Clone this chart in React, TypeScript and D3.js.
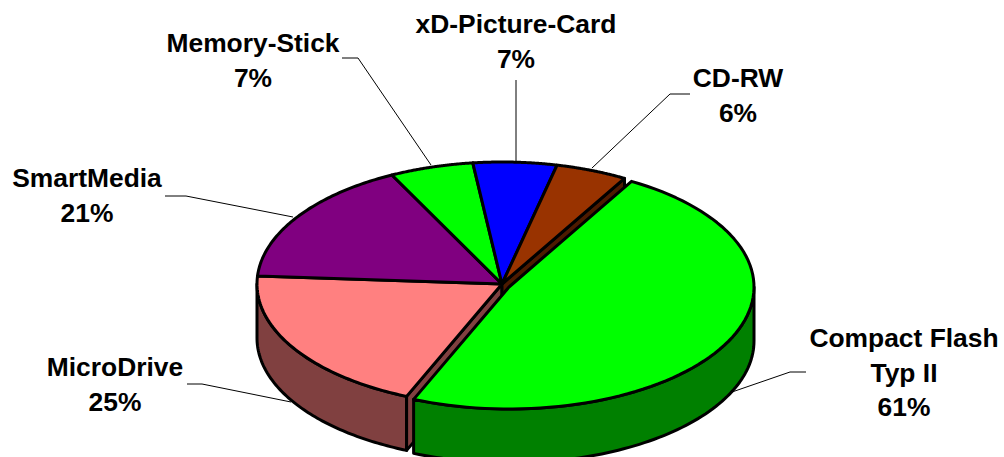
import React from "react";
import * as d3 from "d3";

const categories = ["Compact Flash\nTyp II", "MicroDrive", "SmartMedia", "Memory-Stick", "xD-Picture-Card", "CD-RW"];
const values = [61, 25, 21, 7, 7, 6];
const topColors = ["#00ff00", "#ff8080", "#800080", "#00ff00", "#0000ff", "#993300"];
const wallColors = ["#008000", "#804040", "#400040", "#008000", "#000080", "#4d1a00"];

// label layout: centre x, first baseline y
const labelX = [904, 115, 87, 253, 516, 738];
const labelY = [347, 376, 187, 52, 33, 87];
const leaders = [
  [[806, 372], [790, 372], [732, 392]],
  [[187, 384], [202, 384], [291, 402]],
  [[165, 196], [186, 196], [293, 217]],
  [[342, 58], [358, 58], [431, 165]],
  [[516, 80], [516, 161]],
  [[690, 94], [670, 94], [592, 168]],
];

const W = 1004, H = 457;
const rx = 245, ry = 122, depth = 54;
const cx = 502, cy = 284;
const explodeX = 7, explodeY = 3;
const startAngle = (30 * Math.PI) / 180;

const arcs = d3.pie<number>().sort(null).startAngle(startAngle).endAngle(startAngle + 2 * Math.PI)(values);
const pt = (a: number, ox: number, oy: number): [number, number] => [
  ox + rx * Math.sin(a),
  oy - ry * Math.cos(a),
];
const line = d3.line();
const sampled = (a0: number, a1: number, ox: number, oy: number) =>
  d3.range(0, 81).map((i) => pt(a0 + ((a1 - a0) * i) / 80, ox, oy));

function topPath(a0: number, a1: number, ox: number, oy: number) {
  return line([[ox, oy], ...sampled(a0, a1, ox, oy)]) + "Z";
}
function wallPath(a0: number, a1: number, ox: number, oy: number) {
  const lo = Math.max(a0, Math.PI / 2);
  const hi = Math.min(a1, (3 * Math.PI) / 2);
  if (hi <= lo) return null;
  const top = sampled(lo, hi, ox, oy);
  const bottom = top.map(([x, y]) => [x, y + depth] as [number, number]).reverse();
  return line([...top, ...bottom]) + "Z";
}
function cutPath(a: number, ox: number, oy: number) {
  const p = pt(a, ox, oy);
  return line([[ox, oy], p, [p[0], p[1] + depth], [ox, oy + depth]]) + "Z";
}

const sw = 3;

export default function App() {
  const main = arcs.slice(1);
  const green = arcs[0];
  const gx = cx + explodeX, gy = cy + explodeY;
  return (
    <svg width={W} height={H} viewBox={`0 0 ${W} ${H}`}
      style={{ position: "absolute", left: 0, top: 0, display: "block", background: "#fff" }}>
      <g stroke="#000" strokeWidth={sw} strokeLinejoin="round">
        {main.map((d) => {
          const i = d.index;
          const w = wallPath(d.startAngle, d.endAngle, cx, cy);
          return w ? <path key={i} d={w} fill={wallColors[i]} /> : null;
        })}
        <path d={cutPath(arcs[1].startAngle, cx, cy)} fill={wallColors[1]} />
        <path d={cutPath(arcs[5].endAngle - 2 * Math.PI, cx, cy)} fill={wallColors[5]} />
        {main.map((d) => (
          <path key={d.index} d={topPath(d.startAngle, d.endAngle, cx, cy)} fill={topColors[d.index]} />
        ))}
        {(() => {
          const w = wallPath(green.startAngle, green.endAngle, gx, gy);
          return w ? <path d={w} fill={wallColors[0]} /> : null;
        })()}
        <path d={topPath(green.startAngle, green.endAngle, gx, gy)} fill={topColors[0]} />
      </g>
      <g fill="none" stroke="#000" strokeWidth={1}>
        {leaders.map((l, i) => (
          <path key={i} d={line(l as [number, number][]) as string} />
        ))}
      </g>
      <g fontFamily="'Liberation Sans', Arial, sans-serif" fontWeight="bold" fontSize={26.4} textAnchor="middle" fill="#000">
        {categories.map((c, i) => {
          const lines = [...c.split("\n"), `${values[i]}%`];
          return (
            <text key={i} x={labelX[i]} y={labelY[i]}>
              {lines.map((t, j) => (
                <tspan key={j} x={labelX[i]} dy={j === 0 ? 0 : 34.5}>{t}</tspan>
              ))}
            </text>
          );
        })}
      </g>
    </svg>
  );
}
